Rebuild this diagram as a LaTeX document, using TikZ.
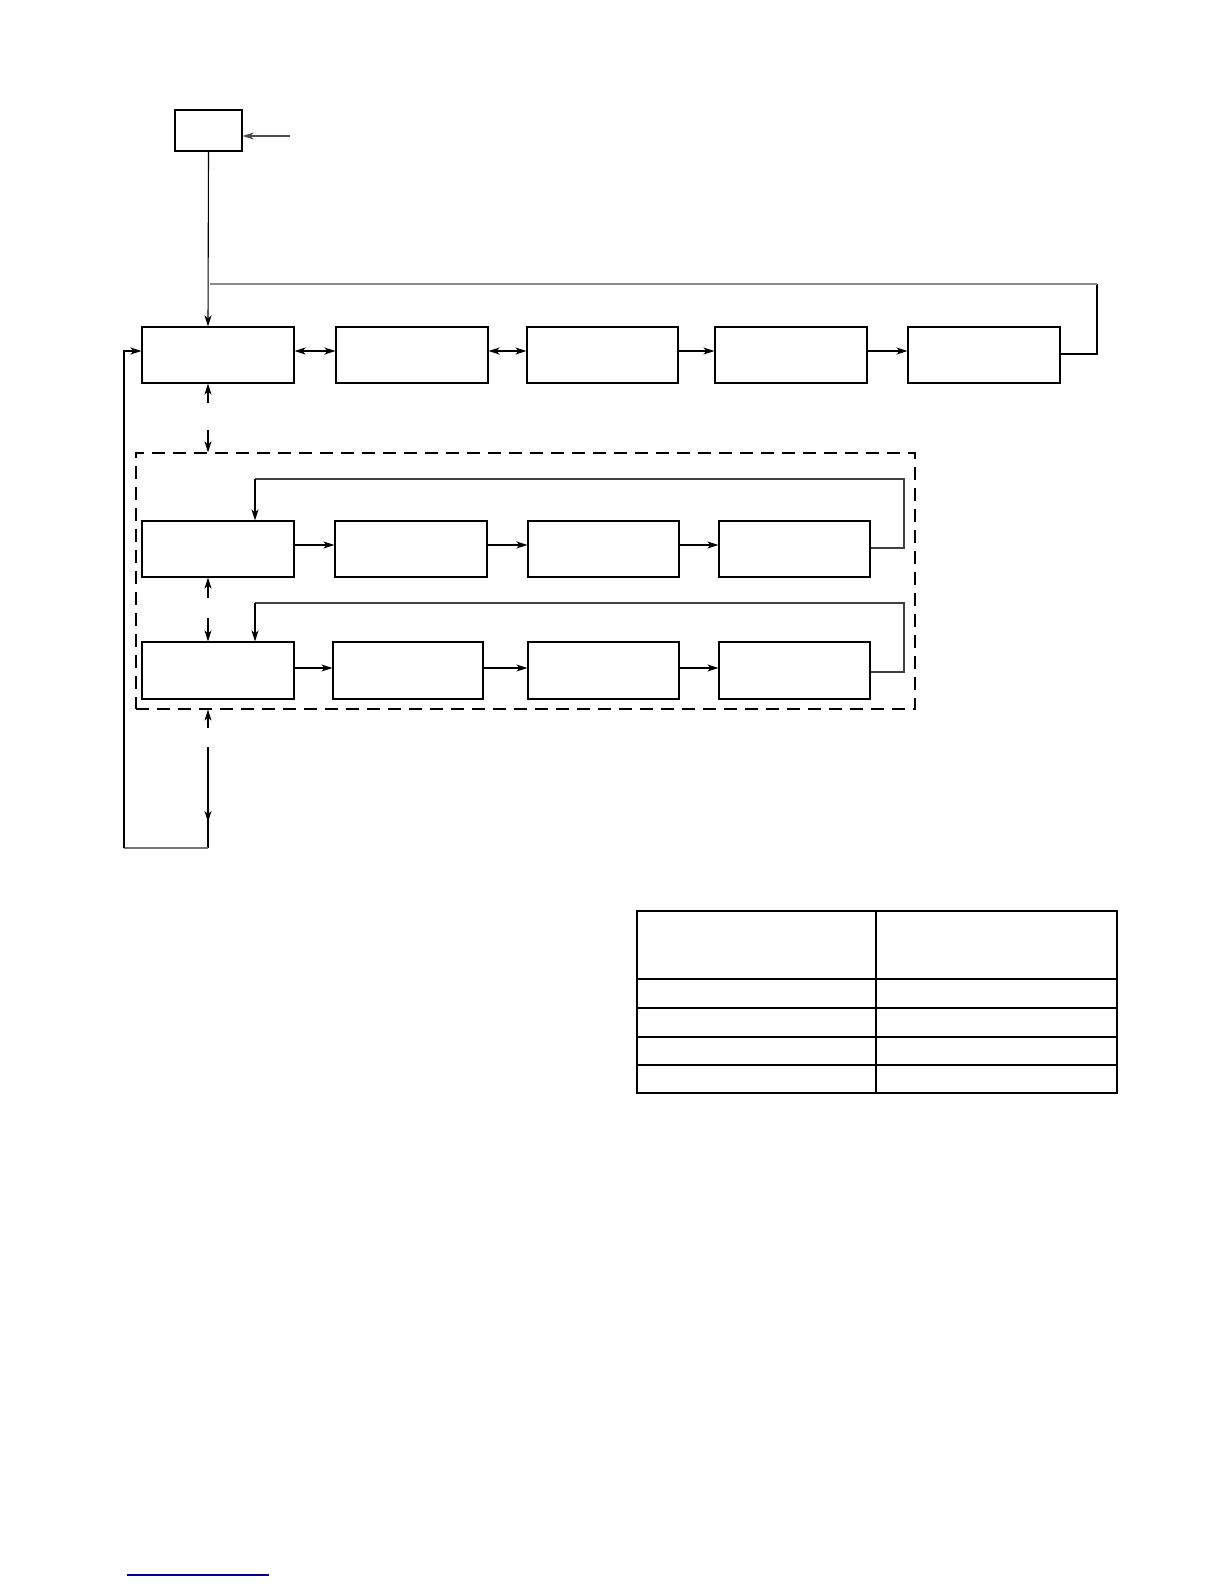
\documentclass[tikz,border=0pt]{standalone}
\usetikzlibrary{arrows.meta,calc}
\begin{document}
\begin{tikzpicture}[x=1pt,y=-1pt,
  blk/.style={draw,line width=1.1pt,inner sep=0pt,minimum width=152pt,minimum height=56pt},
  con/.style={line width=1.1pt},
  tip/.style={-{Stealth[length=11pt,width=7pt,inset=3pt]}},
  dtip/.style={{Stealth[length=11pt,width=7pt,inset=3pt]}-{Stealth[length=11pt,width=7pt,inset=3pt]}},
  fb/.style={line width=1.1pt,draw=black!75}]
\useasboundingbox (0,0) rectangle (1224,1584);
% boxes
\node[blk,minimum width=67pt,minimum height=41pt] (S) at (208.5,130.5) {};
\node[blk] (A) at (218,355) {};
\node[blk] (B) at (412,355) {};
\node[blk,minimum width=151pt] (C) at (602.5,355) {};
\node[blk] (D) at (791,355) {};
\node[blk] (E) at (984,355) {};
\node[draw,dashed,dash pattern=on 13pt off 8pt,line width=1.2pt,inner sep=0pt,minimum width=779pt,minimum height=256pt] (grp) at (525.5,581) {};
\node[blk] (P1) at (218,549) {};
\node[blk] (P2) at (411,549) {};
\node[blk,minimum width=151pt] (P3) at (603.5,549) {};
\node[blk,minimum width=151pt] (P4) at (794.5,549) {};
\node[blk,minimum height=57pt] (Q1) at (218,670.5) {};
\node[blk,minimum width=150pt,minimum height=57pt] (Q2) at (408,670.5) {};
\node[blk,minimum width=151pt,minimum height=57pt] (Q3) at (603.5,670.5) {};
\node[blk,minimum width=151pt,minimum height=57pt] (Q4) at (794.5,670.5) {};
% helper coordinates
\coordinate (vx) at (208,0);
\coordinate (fx) at (255,0);
\coordinate (in) at (290,136);
\coordinate (g1) at (208,403);
\coordinate (g2) at (208,430);
\coordinate (g3) at (208,598);
\coordinate (g4) at (208,618);
\coordinate (g5) at (208,728);
\coordinate (g6) at (208,747);
\coordinate (g7) at (208,822);
\coordinate (g8) at (208,818);
\coordinate (lb) at (208,848);
\coordinate (ll) at (124,848);
\coordinate (lt) at (124,351);
\coordinate (t1) at (1097,354);
\coordinate (t2) at (1097,284);
\coordinate (t3) at (210,284);
\coordinate (r1) at (904,548);
\coordinate (r2) at (904,479);
\coordinate (r3) at (255,479);
\coordinate (s1) at (904,672);
\coordinate (s2) at (904,603);
\coordinate (s3) at (255,603);
% input to S
\draw[con,tip,draw=black!70] (in) -- ([yshift=-5.5pt]S.east);
\draw[con,tip] (S.south) -- (vx |- A.north);
% row 1
\draw[con,dtip] ([yshift=4pt]A.east) -- ([yshift=4pt]B.west);
\draw[con,dtip] ([yshift=4pt]B.east) -- ([yshift=4pt]C.west);
\draw[con,tip] ([yshift=4pt]C.east) -- ([yshift=4pt]D.west);
\draw[con,tip] ([yshift=4pt]D.east) -- ([yshift=4pt]E.west);
\draw[con] ([yshift=1pt]E.east) -- (t1) -- (t2);
\draw[fb,draw=black!45] (t2) -- (t3);
% row 2
\draw[con,tip] ([yshift=4pt]P1.east) -- ([yshift=4pt]P2.west);
\draw[con,tip] ([yshift=4pt]P2.east) -- ([yshift=4pt]P3.west);
\draw[con,tip] ([yshift=4pt]P3.east) -- ([yshift=4pt]P4.west);
\draw[fb] ([yshift=1pt]P4.east) -- (r1) -- (r2) -- (r3);
\draw[con,tip] (r3) -- (fx |- P1.north);
% row 3
\draw[con,tip] ([yshift=2.5pt]Q1.east) -- ([yshift=2.5pt]Q2.west);
\draw[con,tip] ([yshift=2.5pt]Q2.east) -- ([yshift=2.5pt]Q3.west);
\draw[con,tip] ([yshift=2.5pt]Q3.east) -- ([yshift=2.5pt]Q4.west);
\draw[fb] ([yshift=-1.5pt]Q4.east) -- (s1) -- (s2) -- (s3);
\draw[con,tip] (s3) -- (fx |- Q1.north);
% interrupted verticals
\draw[con,tip] (g1) -- (vx |- A.south);
\draw[con,tip] (g2) -- (vx |- grp.north);
\draw[con,tip] (g3) -- (vx |- P1.south);
\draw[con,tip] (g4) -- (vx |- Q1.north);
\draw[con,tip] (g5) -- (vx |- grp.south);
\draw[con,tip] (g6) -- (g7);
\draw[con] (g8) -- (lb);
\draw[fb,draw=black!55] (lb) -- (ll);
\draw[con,tip] (ll) -- (lt) -- ([yshift=4pt]A.west);
% table
\coordinate (T1) at (637,911);
\coordinate (T2) at (1117,1093);
\coordinate (Tm) at (876,0);
\foreach \yy in {979,1008,1037,1065}{
  \draw[line width=1.4pt] (637,\yy) -- (1117,\yy);
}
\draw[line width=1.4pt] (Tm |- T1) -- (Tm |- T2);
\draw[line width=2.6pt] (T1) rectangle (T2);
% blue underline
\draw[line width=1.2pt,draw=blue!60!black] (127,1575) -- (269,1575);
\end{tikzpicture}
\end{document}
